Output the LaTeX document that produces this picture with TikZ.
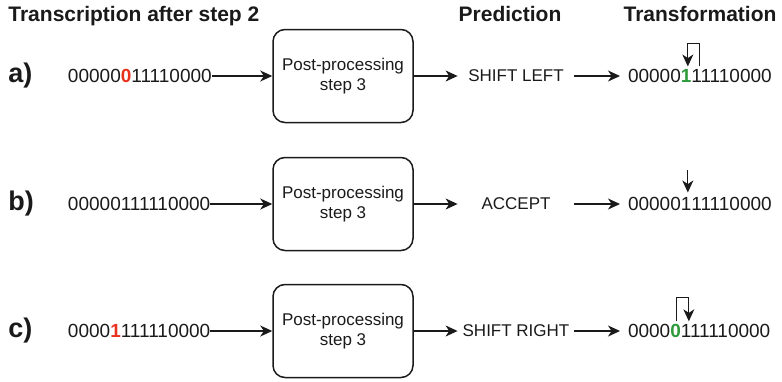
\documentclass[tikz,border=0pt]{standalone}
\usepackage{fontspec}
\setmainfont{Liberation Sans}
\usetikzlibrary{arrows.meta}

\definecolor{ink}{HTML}{1A1A1A}
\definecolor{flagred}{HTML}{E8321E}
\definecolor{okgreen}{HTML}{2E9A3A}

\begin{document}
\begin{tikzpicture}[x=0.5pt,y=-0.5pt,
    head/.style={font=\fontsize{10.5}{12}\selectfont\bfseries, text=ink, inner sep=0},
    tag/.style={font=\fontsize{13.5}{15}\selectfont\bfseries, text=ink, inner sep=0, anchor=west},
    bits/.style={font=\fontsize{9.5}{11}\selectfont, text=ink, inner sep=0, outer sep=0},
    ppbox/.style={draw=ink, line width=0.75pt, rounded corners=6pt, minimum width=70pt,
      minimum height=46.5pt, align=center, font=\fontsize{8.5}{10}\selectfont, text=ink},
    pred/.style={font=\fontsize{8.5}{10}\selectfont, text=ink, inner sep=0, minimum width=58pt},
    arr/.style={draw=ink, line width=0.6pt, -{Stealth[length=6pt,width=5.5pt,inset=1.8pt]}}]

  \useasboundingbox (0,0) rectangle (782,381);

  \node[head, anchor=base west] (h1) at (8,21) {Transcription after step 2};
  \node[head, anchor=base] (h2) at (510,21) {Prediction};
  \node[head, anchor=base] (h3) at (700,21) {Transformation};

  % a)
  \node[tag] (la) at (8,76) {a)};
  \node[bits, anchor=west] (ina) at (68,76) {00000\textcolor{flagred}{\textbf{0}}11110000};
  \node[ppbox] (pa) at (343,76) {Post-processing\\step 3};
  \node[pred] (pra) at (516,76) {SHIFT LEFT};
  \node[bits, anchor=west] (ra1) at (628,76) {00000};
  \node[bits, anchor=base west] (ra2) at (ra1.base east) {\textcolor{okgreen}{\textbf{1}}};
  \node[bits, anchor=base west] (ra3) at (ra2.base east) {11110000};

  \draw[arr] (ina) -- (pa);
  \draw[arr] (pa) -- (pra);
  \draw[arr] (pra) -- ([xshift=-4pt]ra1.west);
  \draw[arr] ([shift={(4pt,1.5pt)}]ra3.north west) -- ++(0,-23) -| ([shift={(3.5pt,1.5pt)}]ra2.north west);

  % b)
  \node[tag] (lb) at (8,204) {b)};
  \node[bits, anchor=west] (inb) at (68,204) {00000111110000};
  \node[ppbox] (pb) at (343,204) {Post-processing\\step 3};
  \node[pred] (prb) at (516,204) {ACCEPT};
  \node[bits, anchor=west] (rb1) at (628,204) {00000};
  \node[bits, anchor=base west] (rb2) at (rb1.base east) {1};
  \node[bits, anchor=base west] (rb3) at (rb2.base east) {11110000};

  \draw[arr] (inb) -- (pb);
  \draw[arr] (pb) -- (prb);
  \draw[arr] (prb) -- ([xshift=-4pt]rb1.west);
  \draw[arr] ([shift={(3.5pt,2.5pt)}]rb2.north west) ++(0,-22) -- ([shift={(3.5pt,2.5pt)}]rb2.north west);

  % c)
  \node[tag] (lc) at (8,331) {c)};
  \node[bits, anchor=west] (inc) at (68,331) {0000\textcolor{flagred}{\textbf{1}}111110000};
  \node[ppbox] (pc) at (343,331) {Post-processing\\step 3};
  \node[pred] (prc) at (516,331) {SHIFT RIGHT};
  \node[bits, anchor=west] (rc1) at (628,331) {0000};
  \node[bits, anchor=base west] (rc2) at (rc1.base east) {\textcolor{okgreen}{\textbf{0}}};
  \node[bits, anchor=base west] (rc3) at (rc2.base east) {111110000};

  \draw[arr] (inc) -- (pc);
  \draw[arr] (pc) -- (prc);
  \draw[arr] (prc) -- ([xshift=-4pt]rc1.west);
  \draw[arr] ([shift={(3.2pt,1.5pt)}]rc2.north west) -- ++(0,-24) -| ([shift={(4pt,1.5pt)}]rc3.north west);

\end{tikzpicture}
\end{document}
